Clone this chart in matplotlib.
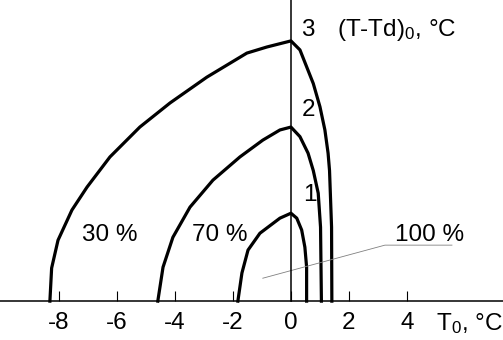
import matplotlib
matplotlib.use('Agg')
import matplotlib.pyplot as plt

plt.rcParams['font.family'] = ['Liberation Sans', 'DejaVu Sans']
plt.rcParams['mathtext.fontset'] = 'custom'
plt.rcParams['mathtext.rm'] = 'Liberation Sans'
plt.rcParams['mathtext.it'] = 'Liberation Sans'
plt.rcParams['axes.unicode_minus'] = False

# Curve data: T0 (x) vs (T-Td)0 (y)
x_30 = [-8.31, -8.25, -8.03, -7.55, -7.03, -6.24, -5.21, -4.17, -2.90, -1.52, -0.83, 0.0,
        0.31, 0.54, 0.77, 1.00, 1.17, 1.28, 1.33, 1.40, 1.41]
y_30 = [0.0, 1.14, 2.10, 3.14, 3.93, 4.97, 6.00, 6.83, 7.72, 8.55, 8.76, 8.97,
        8.66, 8.08, 7.50, 6.70, 5.90, 5.10, 4.50, 2.55, 0.0]

x_70 = [-4.59, -4.41, -4.07, -3.48, -2.69, -1.76, -0.97, -0.38, 0.0,
        0.31, 0.59, 0.77, 0.94, 1.02, 1.05]
y_70 = [0.0, 1.17, 2.20, 3.24, 4.17, 4.97, 5.55, 5.90, 6.00,
        5.67, 5.10, 4.50, 3.72, 2.55, 0.0]

x_100 = [-1.83, -1.69, -1.48, -1.07, -0.38, 0.0, 0.20, 0.37, 0.48, 0.54, 0.54]
y_100 = [0.0, 0.97, 1.76, 2.34, 2.86, 3.03, 2.86, 2.45, 1.86, 1.17, 0.0]

curve_numbers = ['1', '2', '3']
percent_labels = ['30 %', '70 %', '100 %']
x_ticks = [-8, -6, -4, -2, 0, 2, 4]


def main():
    fig = plt.figure(figsize=(5.03, 3.40), dpi=100)
    ax = fig.add_axes([0, 0, 1, 1])
    ax.set_xlim(-10.03, 7.31)
    ax.set_ylim(-1.34, 10.38)

    # Curves
    for xs, ys in [(x_30, y_30), (x_70, y_70), (x_100, y_100)]:
        ax.plot(xs, ys, color='black', lw=2.3, solid_joinstyle='round')

    # Axes through origin
    for side in ['top', 'right']:
        ax.spines[side].set_visible(False)
    ax.spines['left'].set_position(('data', 0))
    ax.spines['bottom'].set_position(('data', 0))
    ax.spines['left'].set_bounds(0, 10.38)
    ax.spines['left'].set_linewidth(1.1)
    ax.spines['bottom'].set_linewidth(1.1)
    ax.set_yticks([])
    ax.set_xticks(x_ticks)
    ax.set_xticklabels([str(t) for t in x_ticks])
    ax.tick_params(axis='x', direction='in', length=7, width=0.8,
                   pad=8, labelsize=17.5)

    fs = 17.5
    # Axis titles
    ax.text(1.59, 9.34, '(T-Td)$_0$, °C', fontsize=fs, va='center', ha='left')
    ax.text(4.99, -0.78, 'T$_0$, °C', fontsize=fs, va='center', ha='left')

    # Curve numbers
    ax.text(0.66, 3.66, curve_numbers[0], fontsize=fs, va='center', ha='center')
    ax.text(0.59, 6.59, curve_numbers[1], fontsize=fs, va='center', ha='center')
    ax.text(0.59, 9.34, curve_numbers[2], fontsize=fs, va='center', ha='center')

    # Percent labels
    ax.text(-6.24, 2.28, percent_labels[0], fontsize=fs, va='center', ha='center')
    ax.text(-2.45, 2.28, percent_labels[1], fontsize=fs, va='center', ha='center')
    ax.text(4.79, 2.28, percent_labels[2], fontsize=fs, va='center', ha='center')

    # Leader line for 100 %
    ax.plot([-0.97, 3.24, 5.55], [0.79, 1.93, 1.93], color='gray', lw=0.6)

    fig.savefig('out.png', dpi=100)
    plt.close(fig)


if __name__ == '__main__':
    main()
